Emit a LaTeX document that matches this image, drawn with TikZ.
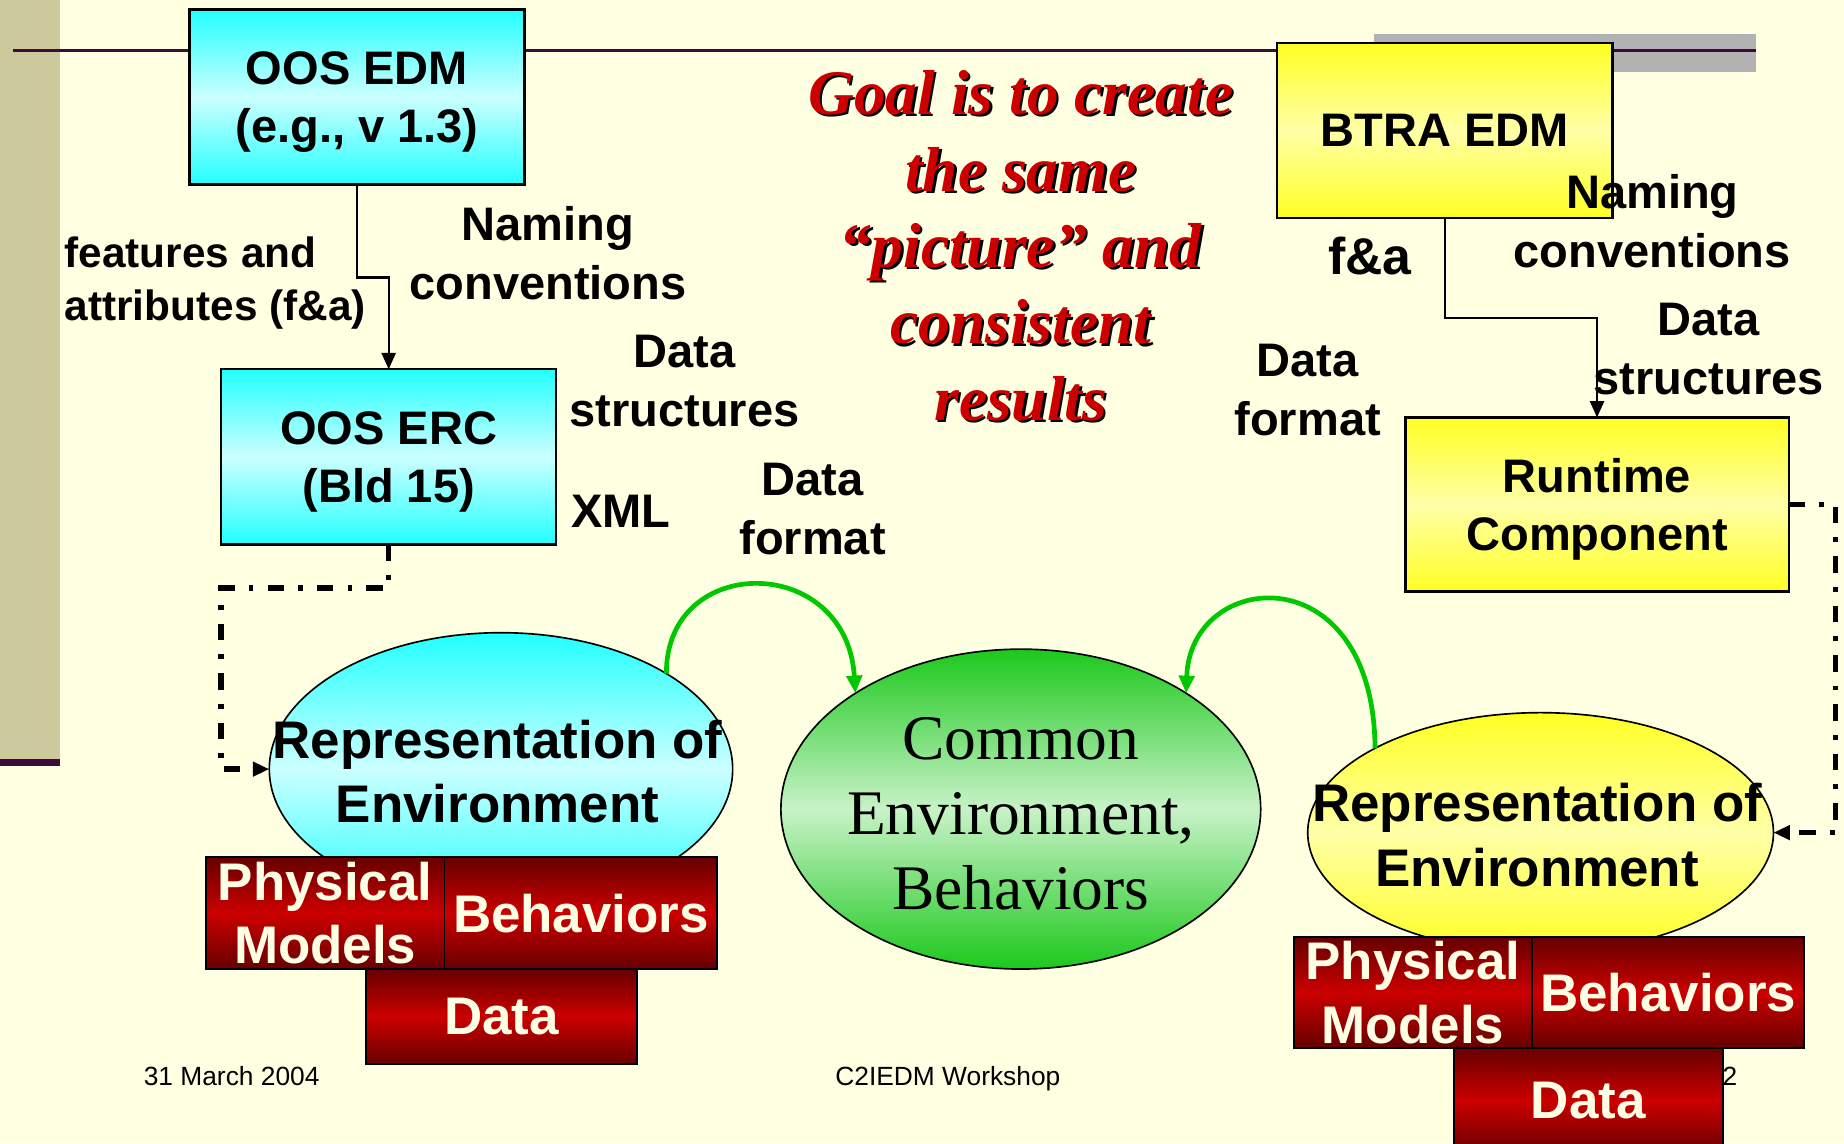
\documentclass[tikz,border=0pt]{standalone}
\usepackage{fontspec}
\setmainfont{Liberation Sans}
\newfontfamily\timesfont{Liberation Serif}
\usepackage{xcolor}
\usetikzlibrary{arrows.meta,positioning,shapes.geometric,calc}
\definecolor{slideBg}{HTML}{FFFFE1}
\definecolor{barOlive}{HTML}{CCC99C}
\definecolor{rulePurple}{HTML}{3C0A3C}
\definecolor{ruleGray}{HTML}{B2B2B2}
\definecolor{boxCyan}{HTML}{22FFFF}
\definecolor{boxCyanLight}{HTML}{CCFFFF}
\definecolor{boxYellow}{HTML}{FFFF22}
\definecolor{boxYellowLight}{HTML}{FFFFA8}
\definecolor{envGreen}{HTML}{1CC81C}
\definecolor{envGreenLight}{HTML}{C8F2C8}
\definecolor{modelRed}{HTML}{CC0000}
\definecolor{modelRedDark}{HTML}{660000}
\definecolor{modelText}{HTML}{FFFFE6}
\definecolor{goalRed}{HTML}{CC0000}
\definecolor{linkGreen}{HTML}{00C800}
\newcommand{\fsz}[2]{\fontsize{#1}{#2}\selectfont}
\newcommand{\dropshadow}[1]{\leavevmode\rlap{\kern1pt\raisebox{-1pt}{\color{black}#1}}#1}

\begin{document}
\begin{tikzpicture}[x=0.5pt, y=-0.5pt,
node distance=0pt,
every node/.style={inner sep=0pt, outer sep=0pt},
lbl/.style={font=\fsz{20}{25}\bfseries, align=center},
edmbox/.style={draw, line width=1pt, minimum width=142.5pt, minimum height=74.5pt, align=center, text depth=0pt, font=\fsz{20}{24.5}\bfseries},
cyanbox/.style={edmbox, top color=boxCyan, bottom color=boxCyan, middle color=boxCyanLight},
yellowbox/.style={edmbox, top color=boxYellow, bottom color=boxYellow, middle color=boxYellowLight},
env/.style={draw, ellipse, line width=0.7pt},
envtext/.style={font=\fsz{22.5}{27.5}\bfseries, align=center},
redbox/.style={draw, line width=0.8pt, top color=modelRedDark, bottom color=modelRedDark, middle color=modelRed, text=modelText, font=\fsz{22.5}{27}\bfseries, align=center},
arr/.style={-{Triangle[length=7pt,width=6pt]}, line width=1pt},
darr/.style={-{Triangle[length=7pt,width=6pt]}, line width=2.3pt, dash pattern=on 7pt off 6pt on 2pt off 6pt},
garr/.style={-{Triangle[length=7.5pt,width=6.5pt]}, line width=2pt, draw=linkGreen}
]
\useasboundingbox (0,0) rectangle (1568,972);
% slide background
\fill[slideBg] (0,0) rectangle (1568,972);
\fill[barOlive] (0,0) rectangle (51,645);
\fill[rulePurple] (0,645) rectangle (51,651);
\fill[ruleGray] (1168,29) rectangle (1493,61);
\draw[rulePurple, line width=1.5pt] (11,43) -- (1493,43);

% model boxes
\node[cyanbox] (oosedm) at (303.5,82.5) {OOS EDM\\(e.g., v 1.3)};
\node[cyanbox] (ooserc) at (330.5,388.5) {OOS ERC\\(Bld 15)};
\node[yellowbox] (btraedm) at (1228.5,111) {BTRA EDM};
\node[yellowbox, minimum width=163pt, minimum height=74pt] (runtime) at (1358,429) {Runtime\\Component};
\draw[arr] (oosedm.south) -- ++(0,79) -| (ooserc.north);
\draw[arr] (btraedm.south) -- ++(0,85) -| (runtime.north);

% labels
\node[lbl, font=\fsz{18}{22.5}\bfseries, align=left, anchor=west] (fa) at (55,241) {features and\\attributes (f\&a)};
\node[lbl] (namingL) at (466,215) {Naming\\conventions};
\node[lbl] (structL) at (582,324) {Data\\structures};
\node[lbl] (xml) at (528,435) {XML};
\node[lbl] (formatL) at (691,433) {Data\\format};
\node[lbl, font=\fsz{22}{26}\bfseries] (faR) at (1165,218) {f\&a};
\node[lbl] (namingR) at (1405,188) {Naming\\conventions};
\node[lbl] (structR) at (1453,297) {Data\\structures};
\node[lbl] (formatR) at (1112,332) {Data\\format};

% goal
\node[font=\timesfont\fsz{27}{32.5}\bfseries\itshape, text=goalRed, align=center] (goal) at (868,210) {\dropshadow{Goal is to create}\\\dropshadow{the same}\\\dropshadow{“picture” and}\\\dropshadow{consistent}\\\dropshadow{results}};

% environments
\node[env, top color=boxCyan, bottom color=boxCyan, middle color=boxCyanLight, minimum width=197pt, minimum height=116pt] (cyanenv) at (426,654) {};
\node[env, top color=envGreen, bottom color=envGreen, middle color=envGreenLight, minimum width=204pt, minimum height=136pt] (commonenv) at (868,688) {};
\node[env, top color=boxYellow, bottom color=boxYellow, middle color=boxYellowLight, minimum width=198pt, minimum height=102pt] (yellowenv) at (1310,708) {};
\node[envtext] (cyanenvtext) at (423,656) {Representation of\\Environment};
\node[font=\timesfont\fsz{27}{32}, align=center] (commontext) at (868,692) {Common\\Environment,\\Behaviors};
\node[envtext] (yellowenvtext) at (1307,710) {Representation of\\Environment};

\draw[darr] (ooserc.south) -- ++(0,37) -| ([xshift=-20.5pt]cyanenv.west) -- (cyanenv.west);
\draw[darr] (runtime.east) -- ++(40,0) |- (yellowenv.east);
\draw[garr] (cyanenv.30) .. controls (566,470) and (720,470) .. (commonenv.145);
\draw[garr] (yellowenv.153) .. controls (1168,470) and (1012,484) .. (commonenv.35);

% footer
\node[font=\fsz{11.2}{13}] (date) at (197,915) {31 March 2004};
\node[font=\fsz{11.2}{13}, text depth=0pt] (workshop) at (806,915) {C2IEDM Workshop};
\node[font=\fsz{11.2}{13}] (pageno) at (1471,915) {2};

% physical models / behaviors / data
\node[redbox, minimum width=101.5pt, minimum height=47.5pt, anchor=north west] (physL) at (175,729) {Physical\\Models};
\node[redbox, minimum width=116pt, minimum height=47.5pt, right=of physL] (behavL) {Behaviors};
\node[redbox, minimum width=115.5pt, minimum height=40.5pt, anchor=north west] (dataL) at ([xshift=68pt]physL.south west) {Data};
\node[redbox, minimum width=101.5pt, minimum height=47pt, anchor=north west] (physR) at (1100,797) {Physical\\Models};
\node[redbox, minimum width=115.5pt, minimum height=47pt, right=of physR] (behavR) {Behaviors};
\node[redbox, minimum width=114.5pt, minimum height=45pt, anchor=north west] (dataR) at ([xshift=68pt]physR.south west) {Data};
\end{tikzpicture}
\end{document}
